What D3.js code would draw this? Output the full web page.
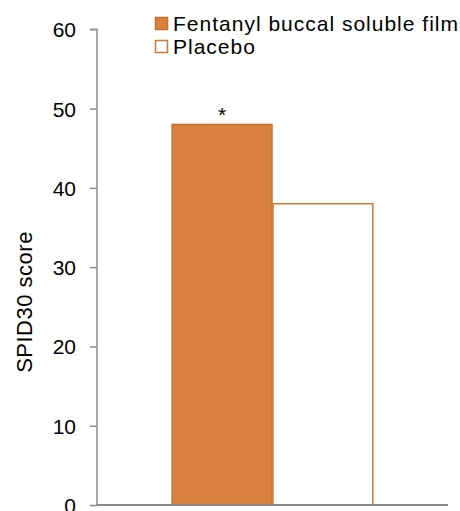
<!DOCTYPE html>
<html><head><meta charset="utf-8">
<script src="https://cdn.jsdelivr.net/npm/d3@7"></script>
<style>body{margin:0;background:#fff}svg{display:block;font-family:"Liberation Sans",Arial,sans-serif}</style>
</head><body><svg id="c" width="460" height="511"></svg>
<script>
const categories = ["Fentanyl buccal soluble film", "Placebo"];
const values = [48, 38];
const yTicks = [0, 10, 20, 30, 40, 50, 60];
const annotations = ["*", ""];
const fills = ["#D9823F", "#FFFFFF"];
const strokes = ["#C4712F", "#D07A35"];

const svg = d3.select("#c");
const x0 = 97, x1 = 448, yTop = 29.3, yBot = 505;
const x = d3.scaleBand().domain(categories).range([x0, x1]).paddingInner(0).paddingOuter(0.74);
const y = d3.scaleLinear().domain([0, 60]).range([yBot, yTop]);

const axisColor = "#8C8C8C";
// y axis
const ya = svg.append("g").attr("transform", `translate(${x0},0)`)
  .call(d3.axisLeft(y).tickValues(yTicks).tickSize(7).tickPadding(14));
ya.select(".domain").attr("stroke", axisColor).attr("stroke-width", 1.5).attr("d", `M-7,${yTop}H0V${yBot}`);
ya.selectAll(".tick line").attr("stroke", axisColor).attr("stroke-width", 1.5);
ya.selectAll(".tick text").attr("font-size", 21).attr("fill", "#000")
  .attr("font-family", "Liberation Sans, Arial, sans-serif").attr("dy", "0.36em");

// bars
svg.selectAll("rect.bar").data(categories).enter().append("rect")
  .attr("class", "bar")
  .attr("x", d => x(d) + 0.5)
  .attr("width", x.bandwidth() - 1)
  .attr("y", (d, i) => y(values[i]))
  .attr("height", (d, i) => yBot - y(values[i]))
  .attr("fill", (d, i) => fills[i])
  .attr("stroke", (d, i) => strokes[i])
  .attr("stroke-width", 1.5);

// x axis
svg.append("line").attr("x1", x0).attr("x2", x1).attr("y1", yBot).attr("y2", yBot)
  .attr("stroke", axisColor).attr("stroke-width", 2);

// annotations
svg.selectAll("text.ann").data(categories).enter().append("text")
  .attr("class", "ann")
  .attr("x", d => x(d) + x.bandwidth() / 2)
  .attr("y", (d, i) => y(values[i]) - 2)
  .attr("text-anchor", "middle").attr("font-size", 21).attr("fill", "#000")
  .text((d, i) => annotations[i]);

// y label
svg.append("text").attr("transform", `translate(32,302) rotate(-90)`)
  .attr("text-anchor", "middle").attr("font-size", 22).attr("letter-spacing", 0.5)
  .attr("fill", "#000").text("SPID30 score");

// legend
const lg = svg.append("g").attr("transform", "translate(155,17)");
categories.forEach((c, i) => {
  const g = lg.append("g").attr("transform", `translate(0,${i * 23})`);
  g.append("rect").attr("x", 0.5).attr("y", 0.5).attr("width", 12).attr("height", 12)
    .attr("fill", fills[i]).attr("stroke", strokes[i]).attr("stroke-width", 1.5);
  g.append("text").attr("x", 18).attr("y", 13.5).attr("font-size", 21)
    .attr("letter-spacing", 1).attr("fill", "#000").text(c);
});
</script></body></html>
